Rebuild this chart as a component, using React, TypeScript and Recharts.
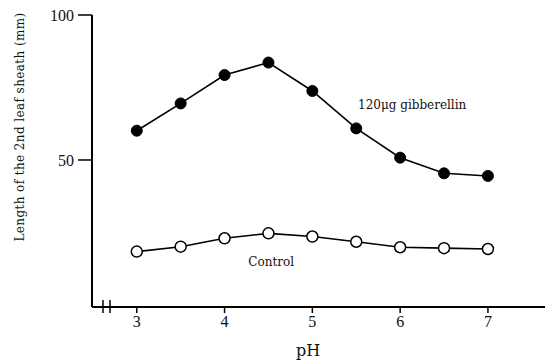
import { LineChart, Line, XAxis, YAxis, ReferenceDot, ReferenceLine } from 'recharts'

// pH values sampled along the x axis
const phValues = [3, 3.5, 4, 4.5, 5, 5.5, 6, 6.5, 7]
// length of the 2nd leaf sheath (mm)
const gibberellin = [60.1, 69.5, 79.3, 83.6, 73.8, 60.9, 50.8, 45.4, 44.5]
const control = [18.4, 20.1, 23.0, 24.7, 23.6, 21.8, 19.9, 19.6, 19.3]

const xTicks = [3, 4, 5, 6, 7]
const yTicks = [50, 100]

const serif = '"DejaVu Serif", "Liberation Serif", serif'

const data = phValues.map((ph, i) => ({
  ph,
  gibberellin: gibberellin[i],
  control: control[i],
}))

function seriesLabel(text: string) {
  return ({ viewBox }: any) => (
    <text
      x={viewBox.x}
      y={viewBox.y}
      dominantBaseline="central"
      fontFamily={serif}
      fontSize={12}
      fill="#111"
    >
      {text}
    </text>
  )
}

function yLabel() {
  return (
    <text
      x={20}
      y={127}
      transform="rotate(-90, 20, 127)"
      textAnchor="middle"
      dominantBaseline="central"
      fontFamily={serif}
      fontSize={12}
      letterSpacing={0.4}
      fill="#111"
    >
      Length of the 2nd leaf sheath (mm)
    </text>
  )
}

function xLabel() {
  return (
    <text
      x={308}
      y={350}
      textAnchor="middle"
      dominantBaseline="central"
      fontFamily={serif}
      fontSize={16}
      fill="#111"
    >
      pH
    </text>
  )
}

export default function App() {
  return (
    <div style={{ position: 'absolute', left: 0, top: 0, background: '#fff' }}>
      <LineChart
        width={548}
        height={360}
        data={data}
        margin={{ top: 15, right: 3, left: 0, bottom: 0 }}
      >
        <XAxis
          dataKey="ph"
          type="number"
          domain={[2.49, 7.65]}
          ticks={xTicks}
          allowDataOverflow
          height={53}
          axisLine={{ stroke: '#000', strokeWidth: 2 }}
          tickLine={{ stroke: '#000', strokeWidth: 1.5 }}
          tickSize={6}
          tickMargin={3}
          tick={{ fontFamily: '"Liberation Serif", serif', fontSize: 16, fill: '#111' }}
          label={{ content: xLabel }}
        />
        <YAxis
          type="number"
          domain={[-0.7, 100]}
          ticks={yTicks}
          allowDataOverflow
          width={92}
          axisLine={{ stroke: '#000', strokeWidth: 2 }}
          tickLine={{ stroke: '#000', strokeWidth: 1.5 }}
          tickSize={14}
          tickMargin={4}
          tick={{ fontFamily: '"Liberation Serif", serif', fontSize: 16, fill: '#111' }}
          label={{ content: yLabel }}
        />
        <ReferenceLine
          segment={[{ x: 2.615, y: 1.7 }, { x: 2.615, y: -2.8 }]}
          stroke="#000"
          strokeWidth={1.5}
          ifOverflow="visible"
        />
        <ReferenceLine
          segment={[{ x: 2.695, y: 1.7 }, { x: 2.695, y: -2.8 }]}
          stroke="#000"
          strokeWidth={1.5}
          ifOverflow="visible"
        />
        <Line
          dataKey="gibberellin"
          stroke="#000"
          strokeWidth={1.6}
          dot={{ r: 5.5, fill: '#000', stroke: '#000', strokeWidth: 1 }}
          isAnimationActive={false}
        />
        <Line
          dataKey="control"
          stroke="#000"
          strokeWidth={1.6}
          dot={{ r: 5.5, fill: '#fff', stroke: '#000', strokeWidth: 1.5 }}
          isAnimationActive={false}
        />
        <ReferenceDot x={5.52} y={69} r={0} label={{ content: seriesLabel('120μg gibberellin') }} />
        <ReferenceDot x={4.27} y={14.8} r={0} label={{ content: seriesLabel('Control') }} />
      </LineChart>
    </div>
  )
}
